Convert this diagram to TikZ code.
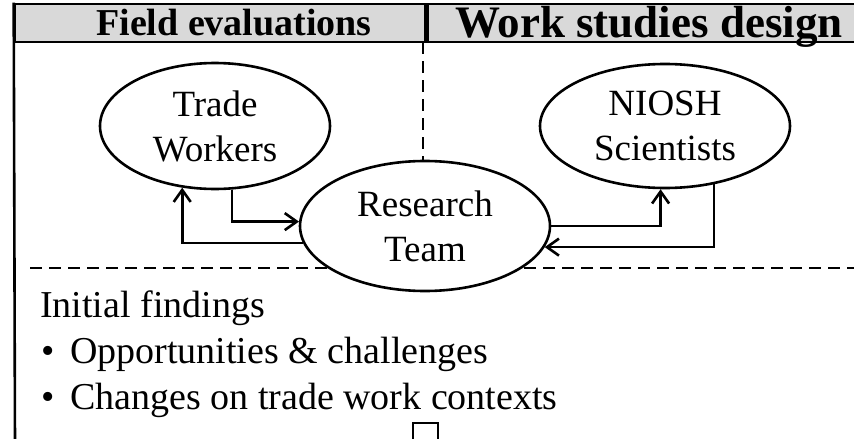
\documentclass[tikz,border=0pt]{standalone}
\usepackage{fontspec}
\setmainfont{Liberation Serif}
\usetikzlibrary{shapes.geometric,arrows.meta}

\begin{document}
\begin{tikzpicture}[
    x=1pt, y=-1pt,
    party/.style={ellipse, draw, line width=2.6pt, fill=white,
                  minimum width=230pt, minimum height=126pt, inner sep=0pt,
                  align=center, font=\fontsize{37}{45}\selectfont},
    head/.style={rectangle, draw, line width=2.6pt, fill=gray!30,
                 minimum height=38pt, inner sep=0pt},
    headtext/.style={inner sep=0pt, anchor=base},
    arrow/.style={line width=2.6pt, -{Straight Barb[length=12pt,width=17pt]}},
    divider/.style={line width=2.6pt, dash pattern=on 12pt off 7pt},
    body/.style={anchor=base west, inner sep=0pt, font=\fontsize{38}{45}\selectfont}
  ]
    \clip (0,0) rectangle (854,439);

    % Header
    \node[head, minimum width=410pt] (field) at (220,23) {};
    \node[head, minimum width=440pt, anchor=west] (work) at (field.east) {};
    \node[headtext, font=\fontsize{38}{44}\selectfont\bfseries] (fieldtxt) at (234,35) {Field evaluations};
    \node[headtext, font=\fontsize{45}{50}\selectfont\bfseries] (worktxt) at (649,37) {Work studies design};
    \draw[line width=2.6pt] (field.north west) -- (15,445);

    % Dividers
    \coordinate (vtop) at (423,42);
    \coordinate (vbot) at (423,170);
    \coordinate (hleft) at (30,268);
    \coordinate (hright) at (860,268);
    \draw[divider] (vtop) -- (vbot);
    \draw[divider] (hleft) -- (hright);

    % Groups
    \node[party] (tw) at (215,126) {Trade\\Workers};
    \node[party, minimum width=250pt, minimum height=124pt] (ns) at (665,126) {NIOSH\\Scientists};
    \node[party, minimum width=250pt, minimum height=130pt] (rt) at (425,226) {Research\\Team};

    % Links
    \draw[arrow] (tw.285) |- (rt.178);
    \draw[arrow] (rt.188) -| (tw.242);
    \draw[arrow] (rt.0) -| (ns.266);
    \draw[arrow] (ns.310) |- (rt.350);

    % Findings
    \node[body] (init) at (40,317) {Initial findings};
    \node[body] (bulleta) at (41,363) {•};
    \node[body] (opp) at (70,363) {Opportunities \& challenges};
    \node[body] (bulletb) at (41,409) {•};
    \node[body] (chg) at (70,409) {Changes on trade work contexts};

    \node[draw, line width=1.5pt, minimum width=25pt, minimum height=27pt, inner sep=0pt] (box) at (425.5,436.5) {};
  \end{tikzpicture}
\end{document}
